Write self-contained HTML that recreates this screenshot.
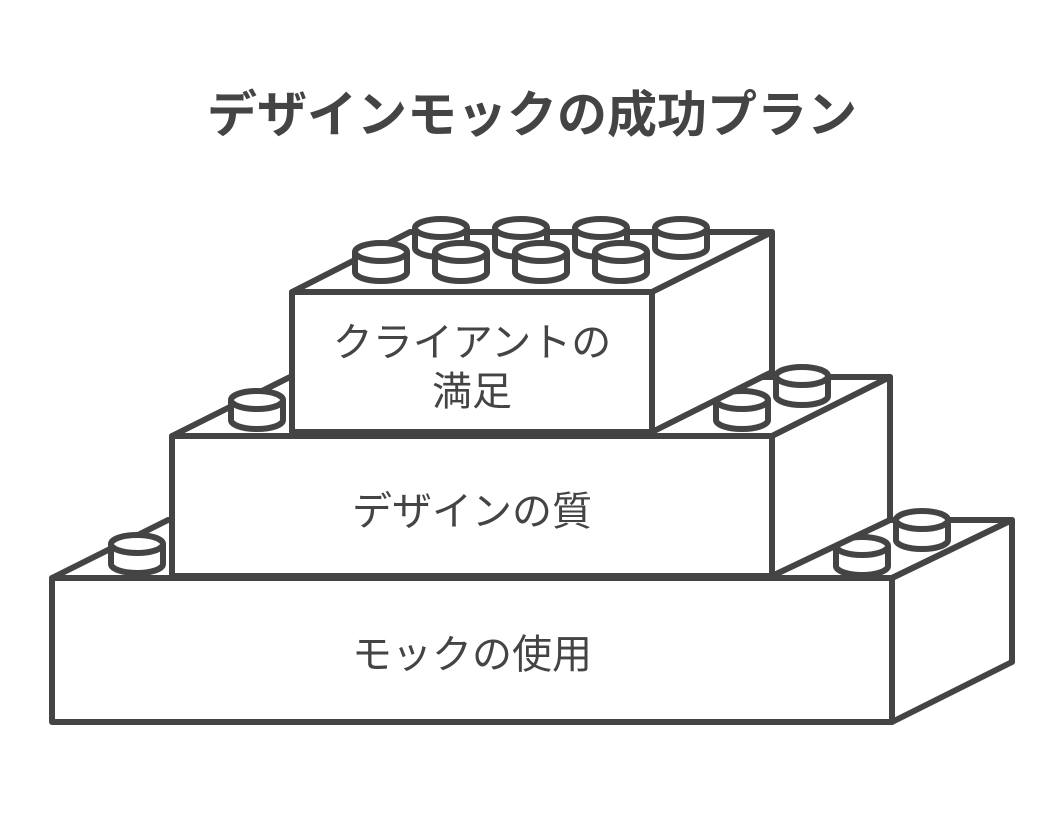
<!DOCTYPE html>
<html><head><meta charset="utf-8"><style>
html,body{margin:0;padding:0;background:#fff;}
svg{display:block;}
text{font-family:"Liberation Sans","Noto Sans CJK JP",sans-serif;fill:#444;}
</style></head><body>
<svg width="1064" height="824" viewBox="0 0 1064 824" xmlns="http://www.w3.org/2000/svg">
<defs>
<g id="stud">
<path d="M-26,0 L-26,20 A26,9 0 0 0 26,20 L26,0" fill="#fff" stroke="#444" stroke-width="6" stroke-linejoin="round"/>
<ellipse cx="0" cy="0" rx="26" ry="9" fill="#fff" stroke="#444" stroke-width="6"/>
</g>
</defs>
<text x="532" y="132" font-size="50" font-weight="bold" text-anchor="middle">デザインモックの成功プラン</text>
<g stroke="#444" stroke-width="6" fill="#fff" stroke-linejoin="round">
<polygon points="52,578 168,520 1012,520 892,578"/>
<polygon points="892,578 1012,520 1012,662 892,722"/>
<rect x="52" y="578" width="840" height="144"/>
</g>
<use href="#stud" x="137" y="544"/>
<use href="#stud" x="922" y="520"/>
<use href="#stud" x="862" y="546"/>
<g stroke="#444" stroke-width="6" fill="#fff" stroke-linejoin="round">
<polygon points="172,436 290,377 890,377 772,436"/>
<polygon points="772,436 890,377 890,520 772,576"/>
<rect x="172" y="436" width="600" height="140"/>
</g>
<use href="#stud" x="257" y="400"/>
<use href="#stud" x="802" y="376"/>
<use href="#stud" x="742" y="400"/>
<g stroke="#444" stroke-width="6" fill="#fff" stroke-linejoin="round">
<polygon points="292,292 410,232 772,232 652,292"/>
<polygon points="652,292 772,232 772,372 652,432"/>
<rect x="292" y="292" width="360" height="140"/>
</g>
<use href="#stud" x="441" y="228"/>
<use href="#stud" x="521" y="228"/>
<use href="#stud" x="601" y="228"/>
<use href="#stud" x="681" y="228"/>
<use href="#stud" x="381" y="252"/>
<use href="#stud" x="461" y="252"/>
<use href="#stud" x="541" y="252"/>
<use href="#stud" x="621" y="252"/>
<text x="472" y="356" font-size="40" text-anchor="middle">クライアントの</text>
<text x="472" y="405" font-size="40" text-anchor="middle">満足</text>
<text x="472" y="525" font-size="40" text-anchor="middle">デザインの質</text>
<text x="472" y="668" font-size="40" text-anchor="middle">モックの使用</text>
</svg>
</body></html>
